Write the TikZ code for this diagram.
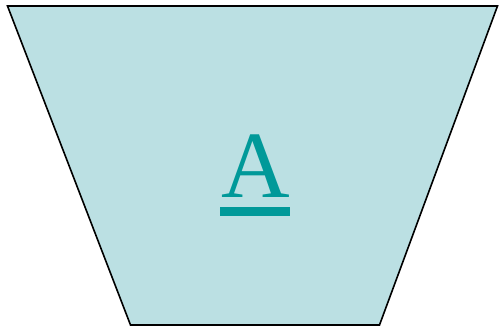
\documentclass[tikz,border=0pt]{standalone}
\usepackage{fontspec}
\setmainfont{Liberation Serif}
\definecolor{trapfill}{HTML}{BBE0E3}
\definecolor{letterteal}{HTML}{009999}
\begin{document}
\begin{tikzpicture}[x=1pt,y=1pt,
  trap/.style={fill=trapfill,draw=black,line width=1.6pt,line join=miter},
  bigletter/.style={text=letterteal,inner sep=0pt,anchor=base,font=\fontsize{95}{95}\selectfont}]
\useasboundingbox (0,0) rectangle (500,328);
\draw[trap] (7.5,322) -- (497.5,322) -- (379.5,3) -- (130.5,3) -- cycle;
\node[bigletter] (A) at (255.5,130) {A};
\fill[letterteal] (220,112) rectangle (290,121);
\end{tikzpicture}
\end{document}
